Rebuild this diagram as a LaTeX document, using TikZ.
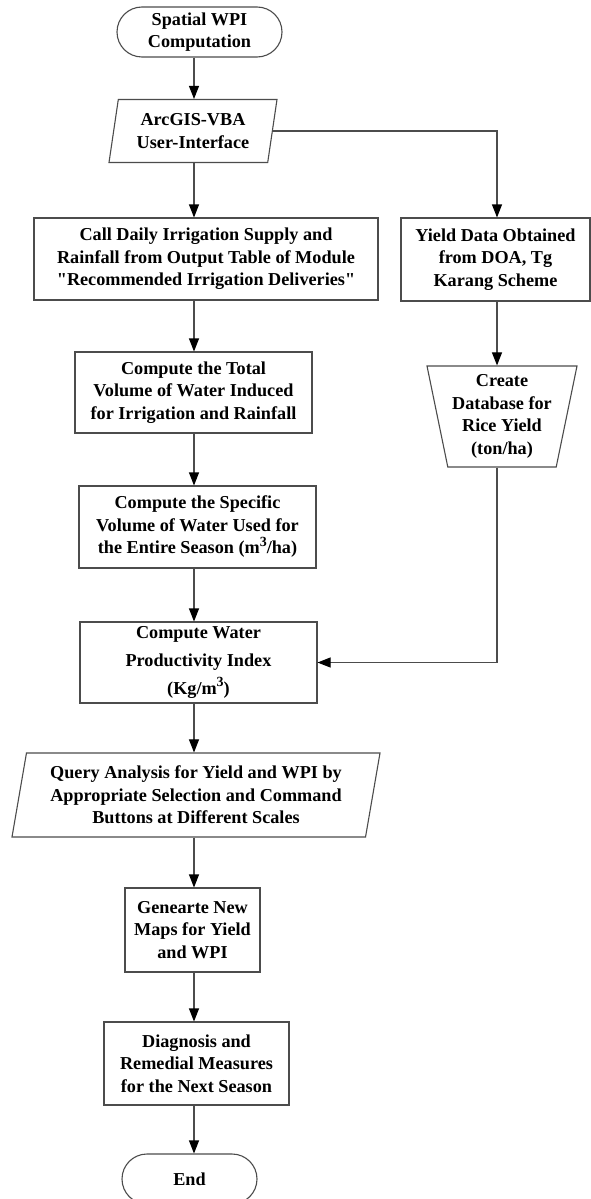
\documentclass[tikz,border=0pt]{standalone}
\usepackage{fontspec}
\setmainfont{Liberation Serif}[Ligatures=TeXOff]
\usetikzlibrary{arrows.meta,shapes.geometric}
\newcommand{\cube}{\raisebox{0.42em}{\fontsize{14}{14}\selectfont 3}}
\begin{document}
\begin{tikzpicture}[x=1pt,y=-1pt,
  every node/.style={font=\fontsize{18.2}{22.5}\selectfont\bfseries, align=center, inner sep=0pt},
  shp/.style={draw=black!70, line width=1.1pt},
  boxn/.style={shp, rectangle},
  term/.style={shp, rectangle, rounded corners=25pt},
  para/.style={shp, trapezium, trapezium stretches body, trapezium left angle=#1, trapezium right angle=180-#1},
  trap/.style={shp, trapezium, trapezium stretches body, trapezium left angle=#1, trapezium right angle=#1},
  arr/.style={draw=black!70, line width=1.1pt, -{Triangle[length=13pt,width=10pt,fill=black,color=black]}}
]
\useasboundingbox[fill=white] (0,0) rectangle (591,1199);
\coordinate (mx) at (194,0);
\coordinate (rx) at (497,0);

\node[term, minimum width=165pt, minimum height=50pt] (start) at (199.5,32) {Spatial WPI\\Computation};
\node[para=75, minimum width=168pt, minimum height=63pt] (arc) at (193,131) {ArcGIS-VBA\\User-Interface};
\node[boxn, minimum width=344pt, minimum height=82pt] (call) at (206,259) {Call Daily Irrigation Supply and\\Rainfall from Output Table of Module\\"Recommended Irrigation Deliveries"};
\node[boxn, minimum width=189pt, minimum height=83pt] (yield) at (495.5,259.5) {Yield Data Obtained\\from DOA, Tg\\Karang Scheme};
\node[boxn, minimum width=237pt, minimum height=81pt] (total) at (193.5,392.5) {Compute the Total\\Volume of Water Induced\\for Irrigation and Rainfall};
\node[trap=104, minimum width=150pt, minimum height=101pt] (db) at (502,416.5) {Create\\Database for\\Rice Yield\\(ton/ha)};
\node[boxn, minimum width=237pt, minimum height=82pt] (spec) at (197.5,527) {Compute the Specific\\Volume of Water Used for\\the Entire Season (m\cube/ha)};
\node[boxn, minimum width=237pt, minimum height=81pt] (wpi) at (198.5,662.5) {Compute Water\\[5.5pt]Productivity Index\\[5.5pt](Kg/m\cube)};
\node[para=76, minimum width=368pt, minimum height=84pt] (query) at (196,795) {Query Analysis for Yield and WPI by\\Appropriate Selection and Command\\Buttons at Different Scales};
\node[boxn, minimum width=135pt, minimum height=84pt] (gen) at (192.5,930) {Genearte New\\Maps for Yield\\and WPI};
\node[boxn, minimum width=185pt, minimum height=83pt] (diag) at (196.5,1063.5) {Diagnosis and\\Remedial Measures\\for the Next Season};
\node[term, minimum width=135pt, minimum height=50pt] (end) at (189.5,1179) {End};

\draw[arr] (start.south -| mx) -- (arc.north -| mx);
\draw[arr] (arc.south -| mx) -- (call.north -| mx);
\draw[arr] (call.south -| mx) -- (total.north -| mx);
\draw[arr] (total.south -| mx) -- (spec.north -| mx);
\draw[arr] (spec.south -| mx) -- (wpi.north -| mx);
\draw[arr] (wpi.south -| mx) -- (query.north -| mx);
\draw[arr] (query.south -| mx) -- (gen.north -| mx);
\draw[arr] (gen.south -| mx) -- (diag.north -| mx);
\draw[arr] (diag.south -| mx) -- (end.north -| mx);
\draw[arr] (arc.east) -| (yield.north -| rx);
\draw[arr] (yield.south -| rx) -- (db.north -| rx);
\draw[arr] (db.south -| rx) |- (wpi.east);
\end{tikzpicture}
\end{document}
